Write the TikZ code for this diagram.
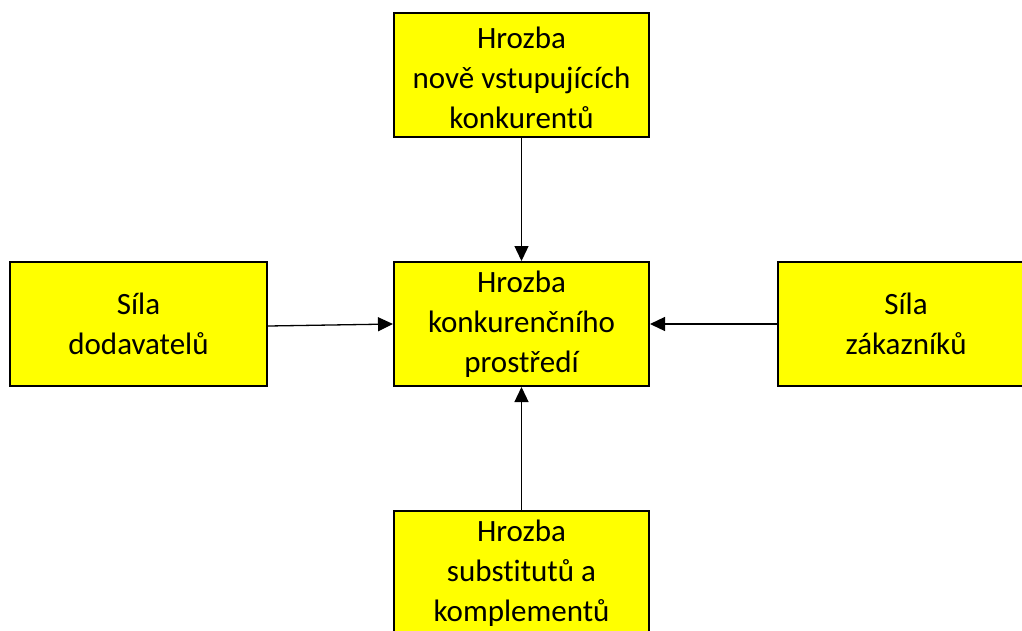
\documentclass[tikz,border=0pt]{standalone}
\usepackage{fontspec}
\setmainfont[Ligatures=NoCommon]{Carlito}
\usetikzlibrary{arrows.meta}
\definecolor{boxyellow}{RGB}{255,255,0}
\begin{document}
\begin{tikzpicture}[x=1pt,y=-1pt,
  force/.style={draw=black,line width=2pt,fill=boxyellow,
    minimum width=255pt,minimum height=124pt,inner sep=0pt,
    align=center,font=\fontsize{31}{40}\selectfont},
  link/.style={draw=black,line width=1.3pt,
    -{Triangle[length=15pt,width=14pt]}}]
\useasboundingbox (0,0) rectangle (1022,630);
\clip (0,0) rectangle (1022,630);
\fill[white] (0,0) rectangle (1022,630);

\node[force] (entrants) at (521.5,74.5) {\strut Hrozba\\nově vstupujících\\konkurentů};
\node[force] (rivalry) at (521.5,324) {Hrozba\\konkurenčního\\prostředí};
\node[force,minimum width=257pt] (suppliers) at (138.5,324) {Síla\\dodavatelů};
\node[force,minimum width=256pt] (buyers) at (906,324) {Síla\\zákazníků};
\node[force,minimum height=125pt] (substitutes) at (521.5,573.5) {Hrozba\\substitutů a\\komplementů};

\draw[link] (entrants.south) -- (rivalry.north);
\draw[link] ([yshift=-2pt]suppliers.east) -- (rivalry.west);
\draw[link] (buyers.west) -- (rivalry.east);
\draw[link] (substitutes.north) -- (rivalry.south);
\end{tikzpicture}
\end{document}
